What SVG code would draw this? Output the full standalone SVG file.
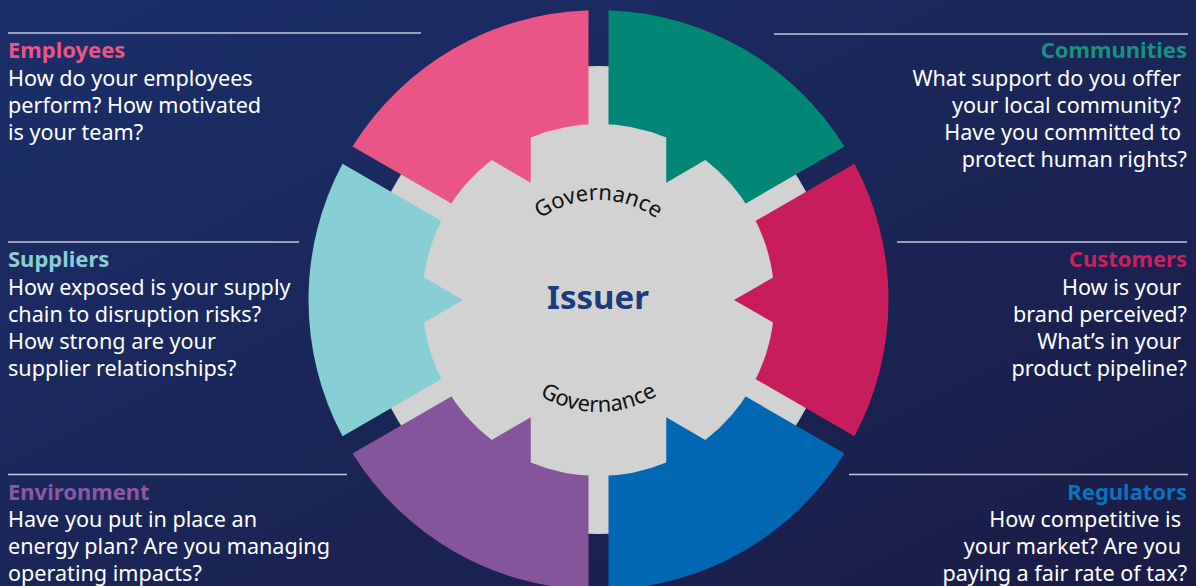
<svg xmlns="http://www.w3.org/2000/svg" width="1196" height="586" viewBox="0 0 1196 586">
<defs>
<linearGradient id="bg" x1="0" y1="0" x2="1" y2="1">
<stop offset="0" stop-color="#1B2F6A"/>
<stop offset="1" stop-color="#1A1C45"/>
</linearGradient>
<path id="govTop" d="M498.5,300 A100,100 0 0 1 698.5,300"/>
<path id="govBot" d="M486.5,300 A112,112 0 0 0 710.5,300"/>
</defs>
<style>
.rule{stroke:#C3C7DC;stroke-width:1.5;fill:none}
.title{font-family:"Noto Sans","Open Sans","Liberation Sans",sans-serif;font-size:22px;font-weight:700}
.body{font-family:"Noto Sans","Open Sans","Liberation Sans",sans-serif;font-size:21.6px;fill:#FFFFFF}
.gov{font-family:"Noto Sans","Open Sans","Liberation Sans",sans-serif;font-size:22px;fill:#111111}
.end{text-anchor:end}
</style>
<rect x="0" y="0" width="1196" height="586" fill="url(#bg)"/>

<g id="ring">
<circle cx="598.5" cy="300" r="234" fill="#D2D2D2"/>
</g>

<g id="seg-employees"><path d="M588.5,282.68 L352.5,146.42 A290,290 0 0 1 588.5,10.17 Z" fill="#EA5587"/></g>
<g id="seg-communities"><path d="M608.5,282.68 L608.5,10.17 A290,290 0 0 1 844.5,146.42 Z" fill="#008776"/></g>
<g id="seg-customers"><path d="M618.5,300 L854.5,163.74 A290,290 0 0 1 854.5,436.26 Z" fill="#C81D5C"/></g>
<g id="seg-regulators"><path d="M608.5,317.32 L844.5,453.58 A290,290 0 0 1 608.5,589.83 Z" fill="#0068B2"/></g>
<g id="seg-environment"><path d="M588.5,317.32 L588.5,589.83 A290,290 0 0 1 352.5,453.58 Z" fill="#84559B"/></g>
<g id="seg-suppliers"><path d="M578.5,300 L342.5,436.26 A290,290 0 0 1 342.5,163.74 Z" fill="#88CED5"/></g>

<g id="issuer">
<path d="M773.05,277.455 L734,300 L773.05,322.545 A176,176 0 0 1 705.30,439.89 L666.25,417.35 L666.25,462.43 A176,176 0 0 1 530.75,462.43 L530.75,417.35 L491.70,439.89 A176,176 0 0 1 423.95,322.545 L463,300 L423.95,277.455 A176,176 0 0 1 491.70,160.11 L530.75,182.65 L530.75,137.57 A176,176 0 0 1 666.25,137.57 L666.25,182.65 L705.30,160.11 A176,176 0 0 1 773.05,277.455 Z" fill="#D2D2D2"/>
<text x="598" y="308.5" text-anchor="middle" font-family="'Noto Sans','Open Sans','Liberation Sans',sans-serif" font-size="33" font-weight="700" fill="#1C3A7C">Issuer</text>
<text class="gov"><textPath href="#govTop" startOffset="50%" text-anchor="middle">Governance</textPath></text>
<text class="gov"><textPath href="#govBot" startOffset="50%" text-anchor="middle">Governance</textPath></text>
</g>

<g id="rules">
<line class="rule" x1="8" y1="33" x2="421" y2="33"/>
<line class="rule" x1="8" y1="242" x2="299" y2="242"/>
<line class="rule" x1="8" y1="474.5" x2="347" y2="474.5"/>
<line class="rule" x1="774" y1="34" x2="1188" y2="34"/>
<line class="rule" x1="897" y1="242" x2="1187" y2="242"/>
<line class="rule" x1="849" y1="474.5" x2="1188" y2="474.5"/>
</g>

<g id="label-employees">
<text class="title" x="8" y="58" fill="#EA5587">Employees</text>
<text class="body" x="8" y="86">How do your employees</text>
<text class="body" x="8" y="113">perform? How motivated</text>
<text class="body" x="8" y="140">is your team?</text>
</g>

<g id="label-suppliers">
<text class="title" x="8" y="267" fill="#88CED5">Suppliers</text>
<text class="body" x="8" y="295">How exposed is your supply</text>
<text class="body" x="8" y="322">chain to disruption risks?</text>
<text class="body" x="8" y="349">How strong are your</text>
<text class="body" x="8" y="376">supplier relationships?</text>
</g>

<g id="label-environment">
<text class="title" x="8" y="500" fill="#8A5AA0">Environment</text>
<text class="body" x="8" y="527">Have you put in place an</text>
<text class="body" x="8" y="554">energy plan? Are you managing</text>
<text class="body" x="8" y="581">operating impacts?</text>
</g>

<g id="label-communities">
<text class="title end" x="1187" y="58" fill="#1A9080">Communities</text>
<text class="body end" x="1181" y="86">What support do you offer</text>
<text class="body end" x="1181" y="113">your local community?</text>
<text class="body end" x="1181" y="140">Have you committed to</text>
<text class="body end" x="1187" y="167">protect human rights?</text>
</g>

<g id="label-customers">
<text class="title end" x="1187" y="267" fill="#C8215E">Customers</text>
<text class="body end" x="1181" y="295">How is your</text>
<text class="body end" x="1187" y="322">brand perceived?</text>
<text class="body end" x="1181" y="349">What’s in your</text>
<text class="body end" x="1187" y="376">product pipeline?</text>
</g>

<g id="label-regulators">
<text class="title end" x="1187" y="500" fill="#0A72BC">Regulators</text>
<text class="body end" x="1181" y="527">How competitive is</text>
<text class="body end" x="1181" y="554">your market? Are you</text>
<text class="body end" x="1187" y="581">paying a fair rate of tax?</text>
</g>
</svg>
